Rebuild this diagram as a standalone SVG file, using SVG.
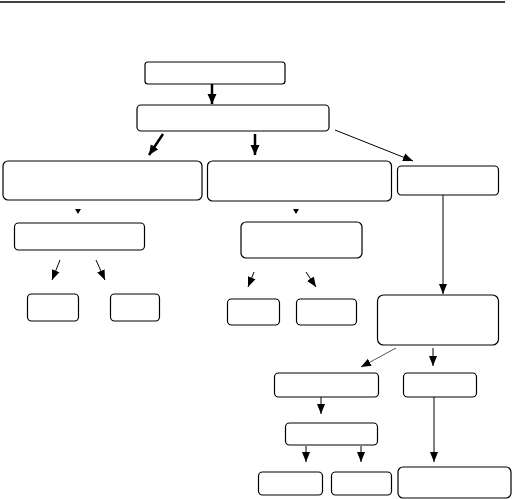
<svg xmlns="http://www.w3.org/2000/svg" width="513" height="499" viewBox="0 0 513 499">
<style>
.box{fill:#fff;stroke:#000;stroke-width:1.2}
.thin{stroke:#000;stroke-width:1;fill:none}
.thick{stroke:#000;stroke-width:2.5;fill:none}
</style>
<defs>
<marker id="ah" markerUnits="userSpaceOnUse" markerWidth="10" markerHeight="10" viewBox="0 0 10 10" refX="10" refY="5" orient="auto">
<path d="M0,1 L10,5 L0,9 Z" fill="#000"/>
</marker>
<marker id="ahb" markerUnits="userSpaceOnUse" markerWidth="10" markerHeight="10" viewBox="0 0 10 10" refX="10" refY="5" orient="auto">
<path d="M0,0.5 L10,5 L0,9.5 Z" fill="#000"/>
</marker>
</defs>
<line x1="0" y1="2" x2="505" y2="2" stroke="#000" stroke-width="1.6"/>
<g id="connectors">
<line class="thick" x1="212" y1="84" x2="212" y2="104" marker-end="url(#ahb)"/>
<line class="thick" x1="163" y1="134" x2="149" y2="155" marker-end="url(#ahb)"/>
<line class="thick" x1="255" y1="134" x2="255" y2="155" marker-end="url(#ahb)"/>
<line class="thin" x1="335" y1="130" x2="413" y2="161" marker-end="url(#ah)"/>
<path d="M75,209 L81,209 L78,214 Z" fill="#000"/>
<path d="M293,209 L299,209 L296,214 Z" fill="#000"/>
<line class="thin" x1="60" y1="260" x2="52" y2="280" marker-end="url(#ah)"/>
<line class="thin" x1="96" y1="260" x2="105" y2="280" marker-end="url(#ah)"/>
<line class="thin" x1="254" y1="272" x2="248" y2="287" marker-end="url(#ah)"/>
<line class="thin" x1="306" y1="272" x2="316" y2="287" marker-end="url(#ah)"/>
<line class="thin" x1="443" y1="195" x2="443" y2="294" marker-end="url(#ah)"/>
<line x1="396" y1="348" x2="361" y2="367" stroke="#555" stroke-width="1" marker-end="url(#ah)"/>
<line class="thin" x1="433" y1="348" x2="433" y2="366" marker-end="url(#ah)"/>
<line class="thin" x1="321" y1="397" x2="321" y2="414" marker-end="url(#ah)"/>
<line class="thin" x1="306" y1="446" x2="306" y2="462" marker-end="url(#ah)"/>
<line class="thin" x1="361" y1="446" x2="361" y2="462" marker-end="url(#ah)"/>
<line class="thin" x1="434" y1="397" x2="434" y2="462" marker-end="url(#ah)"/>
</g>
<g id="nodeA"><rect class="box" x="145" y="62" width="140" height="22" rx="3"/></g>
<g id="nodeB"><rect class="box" x="137" y="105" width="192" height="26" rx="4"/></g>
<g id="nodeC"><rect class="box" x="3" y="161" width="199" height="39" rx="5"/></g>
<g id="nodeD"><rect class="box" x="207.5" y="161" width="184" height="40" rx="5"/></g>
<g id="nodeE"><rect class="box" x="397.5" y="166" width="101" height="29" rx="4"/></g>
<g id="nodeF"><rect class="box" x="14.5" y="223" width="130" height="27" rx="4"/></g>
<g id="nodeG"><rect class="box" x="27.5" y="294" width="51" height="27" rx="4"/></g>
<g id="nodeH"><rect class="box" x="110.5" y="294" width="49" height="27" rx="4"/></g>
<g id="nodeI"><rect class="box" x="241" y="222" width="121" height="36" rx="5"/></g>
<g id="nodeJ"><rect class="box" x="227.5" y="299" width="52" height="26" rx="4"/></g>
<g id="nodeK"><rect class="box" x="296.5" y="299" width="60" height="26" rx="4"/></g>
<g id="nodeL"><rect class="box" x="377.5" y="295" width="121" height="50" rx="6"/></g>
<g id="nodeM"><rect class="box" x="274.5" y="373" width="104" height="24" rx="4"/></g>
<g id="nodeN"><rect class="box" x="403.5" y="373" width="73" height="24" rx="4"/></g>
<g id="nodeO"><rect class="box" x="285.5" y="423" width="92" height="22" rx="4"/></g>
<g id="nodeP"><rect class="box" x="258.5" y="472" width="64" height="23" rx="4"/></g>
<g id="nodeQ"><rect class="box" x="331.5" y="472" width="60" height="23" rx="4"/></g>
<g id="nodeR"><rect class="box" x="398" y="467" width="113" height="31" rx="5"/></g>
</svg>
